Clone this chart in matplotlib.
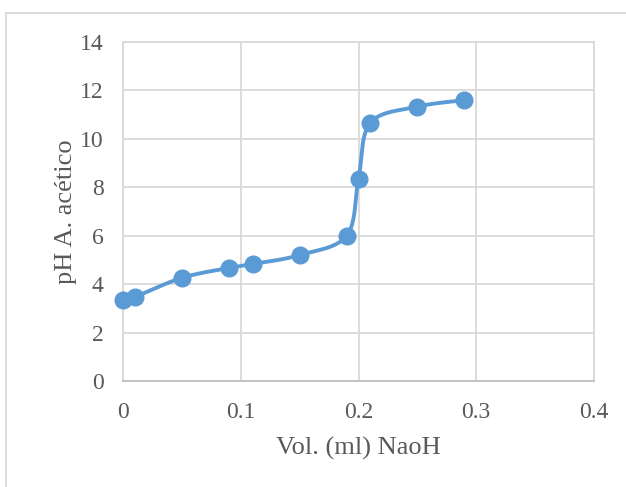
import numpy as np
import matplotlib
matplotlib.use("Agg")
import matplotlib.pyplot as plt
from matplotlib.lines import Line2D

# Titration of acetic acid with NaOH
vol_naoh = [0.0, 0.01, 0.05, 0.09, 0.11, 0.15, 0.19, 0.20, 0.21, 0.25, 0.29]
ph_values = [3.35, 3.47, 4.26, 4.67, 4.83, 5.20, 6.00, 8.35, 10.66, 11.33, 11.60]

x_ticks = [0, 0.1, 0.2, 0.3, 0.4]
x_tick_labels = ["0", "0.1", "0.2", "0.3", "0.4"]
y_ticks = [0, 2, 4, 6, 8, 10, 12, 14]

x_label = "Vol. (ml) NaoH"
y_label = "pH A. acético"

line_color = "#5b9bd5"
grid_color = "#d9d9d9"
text_color = "#595959"


def smooth_curve(xs, ys, steps=40):
    """Bezier smoothing through the points (Catmull-Rom style control points)."""
    xs = np.asarray(xs, float)
    ys = np.asarray(ys, float)
    n = len(xs)
    out_x, out_y = [], []
    t = np.linspace(0, 1, steps)
    for i in range(n - 1):
        p0 = np.array([xs[max(i - 1, 0)], ys[max(i - 1, 0)]])
        p1 = np.array([xs[i], ys[i]])
        p2 = np.array([xs[i + 1], ys[i + 1]])
        p3 = np.array([xs[min(i + 2, n - 1)], ys[min(i + 2, n - 1)]])
        c1 = p1 + (p2 - p0) / 6.0
        c2 = p2 - (p3 - p1) / 6.0
        b = ((1 - t) ** 3)[:, None] * p1 + (3 * (1 - t) ** 2 * t)[:, None] * c1 \
            + (3 * (1 - t) * t ** 2)[:, None] * c2 + (t ** 3)[:, None] * p2
        out_x.extend(b[:, 0])
        out_y.extend(b[:, 1])
    return np.array(out_x), np.array(out_y)


plt.rcParams["font.family"] = ["Liberation Serif", "DejaVu Serif"]

fig = plt.figure(figsize=(6.26, 4.87), dpi=100)
ax = fig.add_axes([123 / 626, 1 - 381 / 487, (594 - 123) / 626, (381 - 42) / 487])

sx, sy = smooth_curve(vol_naoh, ph_values)
ax.plot(sx, sy, color=line_color, lw=2.8, solid_capstyle="round", zorder=3, clip_on=False)
ax.plot(vol_naoh, ph_values, "o", color=line_color, ms=12, zorder=4, clip_on=False)

ax.set_xlim(0, 0.4)
ax.set_ylim(0, 14)
ax.set_xticks(x_ticks)
ax.set_xticklabels(x_tick_labels)
ax.set_yticks(y_ticks)

ax.grid(True, color=grid_color, lw=1.3, zorder=0)
ax.set_axisbelow(True)
for side in ["top", "right", "left"]:
    ax.spines[side].set_color(grid_color)
    ax.spines[side].set_linewidth(1.3)
ax.spines["bottom"].set_color("#bfbfbf")
ax.spines["bottom"].set_linewidth(1.3)

ax.tick_params(length=0, labelsize=17, colors=text_color)
ax.tick_params(axis="x", pad=15)
ax.tick_params(axis="y", pad=14)
ax.set_xlabel(x_label, fontsize=19, color=text_color, labelpad=10)
ax.set_ylabel(y_label, fontsize=19, color=text_color, labelpad=2)

# Outer chart frame (top and left edges)
frame_color = "#d9d9d9"
fig.add_artist(Line2D([6 / 626, 1.0], [1 - 13 / 487, 1 - 13 / 487],
                      transform=fig.transFigure, color=frame_color, lw=1.3))
fig.add_artist(Line2D([6 / 626, 6 / 626], [1 - 13 / 487, 0.0],
                      transform=fig.transFigure, color=frame_color, lw=1.3))

fig.savefig("out.png", dpi=100)
